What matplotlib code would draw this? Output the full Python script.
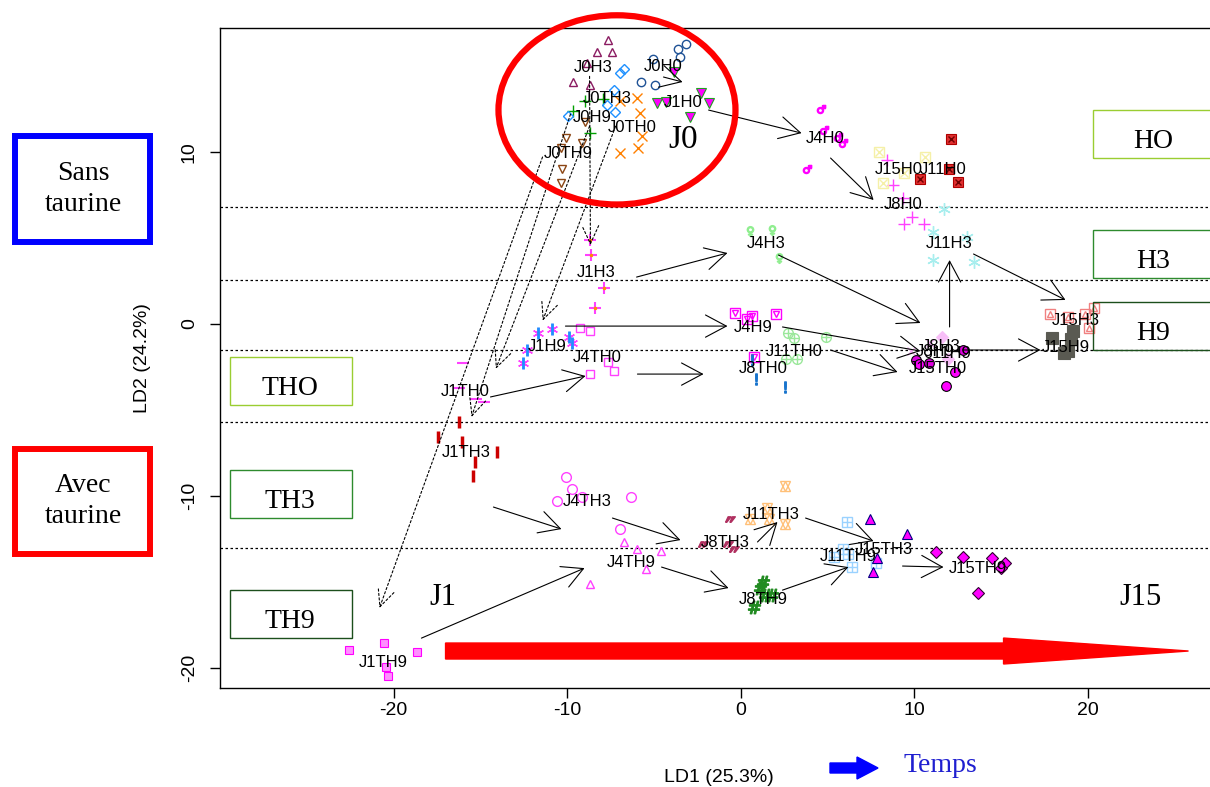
import matplotlib
matplotlib.use("Agg")
import matplotlib.pyplot as plt
from matplotlib.patches import Ellipse, FancyArrow, Rectangle

plt.rcParams["font.family"] = ["Liberation Sans", "DejaVu Sans"]
plt.rcParams["axes.unicode_minus"] = False

# ---- data (LD1, LD2) ----
names = ["J0H0", "J0H3", "J0H9", "J0TH0", "J0TH3", "J0TH9",
         "J1H0", "J1H3", "J1H9", "J1TH0", "J1TH3", "J1TH9",
         "J4H0", "J4H3", "J4H9", "J4TH0", "J4TH3", "J4TH9",
         "J8H0", "J8H3", "J8H9", "J8TH0", "J8TH3", "J8TH9",
         "J11H0", "J11H3", "J11H9", "J11TH0", "J11TH3", "J11TH9",
         "J15H0", "J15H3", "J15H9", "J15TH0", "J15TH3", "J15TH9"]

ld1 = [
    [-3.17, -3.63, -3.46, -5.07, -5.76, -4.90],
    [-7.61, -8.30, -7.38, -9.68, -8.70, -8.82],
    [-8.99, -7.90, -9.63, -8.70],
    [-5.94, -6.97, -5.82, -5.65, -5.88, -6.97],
    [-6.74, -6.97, -7.32, -7.67, -7.26, -9.97],
    [-10.03, -9.16, -10.32, -10.26, -10.32, -8.99],
    [-3.86, -2.25, -4.84, -4.32, -1.79, -2.94],
    [-8.65, -8.59, -7.84, -8.36],
    [-11.70, -10.84, -9.91, -9.74, -12.33, -12.56],
    [-16.02, -16.25, -15.27, -14.76],
    [-16.20, -17.46, -16.08, -14.06, -15.33, -15.39],
    [-22.59, -20.52, -18.67, -20.46, -20.29],
    [4.61, 4.84, 5.59, 5.88, 3.86],
    [0.52, 1.84, 2.19],
    [-0.29, 0.35, 0.69, 2.02, 0.75],
    [-9.28, -8.70, -8.70, -7.61, -7.32],
    [-10.03, -9.74, -10.55, -9.16, -6.34, -6.97],
    [-6.74, -5.94, -4.61, -5.42, -8.70],
    [8.47, 8.76, 9.34, 9.86, 9.45, 10.55],
    [11.64, 11.93],
    [9.80, 10.90],
    [0.92, 2.54, 0.69],
    [-0.58, -2.19, -0.75, -0.40],
    [1.27, 1.10, 1.44, 1.84, 0.75],
    [12.16, 11.99, 10.32, 12.56],
    [11.70, 11.12, 13.08, 11.07, 13.43],
    [10.09, 10.84, 12.80],
    [2.71, 3.11, 4.90, 2.65, 3.23],
    [2.59, 1.50, 0.52, 1.67, 2.54],
    [6.11, 5.88, 6.22, 7.78, 6.40, 5.36],
    [8.01, 10.66, 8.24, 9.45],
    [17.81, 18.90, 19.88, 20.35, 20.06],
    [17.93, 19.14, 19.02, 18.62, 18.85],
    [10.26, 12.39, 11.82],
    [7.49, 9.57, 7.84, 7.61],
    [11.24, 12.85, 14.47, 15.27, 14.99, 13.66],
]
ld2 = [
    [16.28, 15.99, 15.52, 15.41, 14.07, 13.90],
    [16.51, 15.81, 15.81, 14.07, 13.90, 15.17],
    [12.97, 13.08, 12.38, 11.10],
    [13.14, 12.97, 12.27, 10.93, 10.23, 9.94],
    [14.83, 14.59, 13.60, 12.73, 12.33, 12.09],
    [10.81, 10.52, 10.23, 9.01, 8.20, 11.74],
    [14.65, 13.43, 12.85, 12.91, 12.85, 12.03],
    [4.88, 4.01, 2.09, 0.93],
    [-0.52, -0.29, -0.76, -1.10, -1.51, -2.27],
    [-2.27, -3.72, -4.36, -4.53],
    [-5.70, -6.57, -6.86, -7.44, -8.02, -8.84],
    [-18.95, -18.55, -19.07, -19.94, -20.47],
    [12.50, 11.28, 10.87, 10.52, 9.01],
    [5.41, 5.47, 3.84],
    [0.64, 0.29, 0.47, 0.58, -1.92],
    [-0.23, -0.41, -2.91, -2.21, -2.73],
    [-8.90, -9.59, -10.29, -10.06, -10.06, -11.92],
    [-12.67, -13.08, -13.20, -14.24, -15.12],
    [9.53, 8.08, 7.33, 6.22, 5.81, 5.81],
    [-0.76, -2.03],
    [-1.57, -1.10],
    [-3.20, -3.66, -2.09],
    [-11.34, -12.79, -12.79, -13.08],
    [-15.00, -15.35, -15.76, -15.76, -16.45],
    [10.76, 9.01, 8.43, 8.26],
    [6.69, 5.35, 5.06, 3.72, 3.60],
    [-2.09, -2.27, -1.51],
    [-0.52, -0.81, -0.76, -2.03, -2.03],
    [-9.42, -10.70, -11.34, -11.34, -11.63],
    [-11.51, -13.08, -13.37, -13.90, -14.13, -13.55],
    [10.00, 9.71, 8.20, 8.78],
    [0.58, 0.41, 0.58, 0.93, -0.23],
    [-0.81, -0.41, -0.87, -1.69, -1.57],
    [-2.33, -2.79, -3.60],
    [-11.34, -12.21, -13.60, -14.42],
    [-13.26, -13.55, -13.60, -13.90, -14.19, -15.64],
]
label_x = [-4.44, -8.47, -8.53, -6.22, -7.67, -9.91,
           -3.29, -8.30, -11.12, -15.85, -15.79, -20.58,
           4.90, 1.50, 0.75, -8.24, -8.82, -6.28,
           9.39, 11.55, 11.20, 1.33, -0.86, 1.33,
           11.70, 12.05, 11.95, 3.11, 1.79, 6.22,
           9.11, 19.31, 18.73, 11.35, 8.24, 13.66]
label_y = [15.00, 14.94, 11.98, 11.45, 13.14, 9.94,
           12.85, 2.97, -1.28, -3.95, -7.44, -19.65,
           10.81, 4.71, -0.23, -1.92, -10.29, -13.84,
           6.92, -1.30, -1.62, -2.56, -12.73, -15.99,
           9.01, 4.71, -1.70, -1.57, -11.05, -13.49,
           9.01, 0.23, -1.34, -2.56, -13.08, -14.19]

# trajectories between sampling days: (x0, y0, x1, y1)
arrows_solid = [
    (-18.39, -18.26, -8.99, -14.19), (-14.24, -10.64, -10.32, -11.92),
    (-14.41, -4.24, -8.93, -3.02), (-5.94, -2.91, -2.13, -2.91),
    (-10.09, -0.12, -0.75, -0.12), (-5.99, 2.73, -0.75, 4.13),
    (-1.84, 12.44, 3.52, 11.10), (5.19, 9.65, 7.67, 7.21),
    (2.19, 4.01, 10.37, 0.06), (2.42, -0.17, 10.37, -1.57),
    (5.19, -1.51, 9.05, -2.79), (12.05, -0.17, 12.05, 3.72),
    (13.43, 4.07, 18.73, 1.40), (12.80, -1.51, 17.29, -1.51),
    (-7.38, -11.28, -3.46, -12.56), (-4.55, -14.13, -0.69, -15.35),
    (0.98, -12.67, 2.13, -11.51), (3.75, -11.28, 7.67, -12.62),
    (2.42, -15.47, 6.22, -14.13), (9.34, -14.07, 11.70, -14.13),
    (-4.44, 14.36, -3.34, 14.07),
]
arrows_dotted = [
    (-11.41, 9.71, -20.81, -16.51), (-8.70, 14.40, -8.65, 4.59),
    (-9.80, 12.20, -15.50, -5.40), (-8.70, 11.50, -14.10, -2.60),
    (-7.20, 11.50, -11.40, 0.20),
]
hlines = [6.8, 2.56, -1.5, -5.7, -13.0]
big_labels = ["J0", "J1", "J15"]
big_x = [-3.29, -17.18, 23.05]
big_y = [10.70, -15.87, -15.87]
big_size = [24, 22, 22]


def o(m, c, ms=6, mew=1.0):
    return dict(marker=m, mfc="none", mec=c, ms=ms, mew=mew)


def f(m, fc, ec, ms=6, mew=0.8):
    return dict(marker=m, mfc=fc, mec=ec, ms=ms, mew=mew)


def s(m, c, ms=6, mew=1.0):
    return dict(marker=m, color=c, ms=ms, mew=mew)


MAG = "#FF40FF"
styles = {
    "J0H0": [o("o", "#1F5296")],
    "J0H3": [o("^", "#8B1C62")],
    "J0H9": [s("+", "#00A000", 8)],
    "J0TH0": [s("x", "#FF8000", 7)],
    "J0TH3": [o("D", "#1E90FF", 5.5)],
    "J0TH9": [o("v", "#8B4513")],
    "J1H0": [f("v", "#FF00FF", "#20A020", 7)],
    "J1H3": [s("+", MAG, 8, 1.5), s(".", "#FF8C00", 3)],
    "J1H9": [s((6, 2, 0), MAG, 8), s("|", "#1E90FF", 8, 2)],
    "J1TH0": [s("_", MAG, 8, 1.5)],
    "J1TH3": [s("|", "#CC0000", 8, 2.5)],
    "J1TH9": [f("s", "#FF90FF", "#FF00FF", 6)],
    "J4H0": [s("$\u2642$", "#FF00FF", 6)],
    "J4H3": [s("$\u2640$", "#90EE90", 7)],
    "J4H9": [o("s", "#FF00FF", 7), o("v", "#FF00FF", 5)],
    "J4TH0": [o("s", MAG, 6)],
    "J4TH3": [o("o", MAG, 7)],
    "J4TH9": [o("^", MAG, 6)],
    "J8H0": [s("+", MAG, 9)],
    "J8H3": [f("D", "#F7BEF7", "#F7BEF7", 6)],
    "J8H9": [s("x", "#F0B0F0", 6)],
    "J8TH0": [s("$!$", "#1874CD", 8)],
    "J8TH3": [s("$\u2033$", "#B03060", 7)],
    "J8TH9": [s("$\\#$", "#228B22", 9)],
    "J11H0": [f("s", "#E03030", "#B00000", 7), s("x", "#700000", 5)],
    "J11H3": [s((6, 2, 0), "#A8EEEE", 9)],
    "J11H9": [f("o", "#DD00DD", "black", 7)],
    "J11TH0": [o("o", "#9BE89B", 7), s("+", "#9BE89B", 7)],
    "J11TH3": [o("^", "#FFC078", 7), o("v", "#FFC078", 7)],
    "J11TH9": [o("s", "#9AD2FF", 7), s("+", "#9AD2FF", 7)],
    "J15H0": [o("s", "#F5F0A8", 7), s("x", "#F5F0A8", 6)],
    "J15H3": [o("s", "#F08080", 7), o("^", "#F08080", 4)],
    "J15H9": [f("s", "#5A5A52", "#5A5A52", 8)],
    "J15TH0": [f("o", "#FF00FF", "black", 7)],
    "J15TH3": [f("^", "#FF00FF", "#000080", 7)],
    "J15TH9": [f("D", "#FF00FF", "#300030", 6)],
}

W, H = 1210, 787
fig = plt.figure(figsize=(W / 100, H / 100), dpi=100)
ax = fig.add_axes([220 / W, 1 - 688 / H, 998 / W, 660 / H])
ax.set_xlim(-30, 27.52)
ax.set_ylim(-21.16, 17.21)

for yv in hlines:
    ax.axhline(yv, color="black", lw=0.9, ls=(0, (2, 2)), zorder=1)

for name, xs, ys in zip(names, ld1, ld2):
    for st in styles[name]:
        ax.plot(xs, ys, ls="none", zorder=3, **st)

for name, lx, ly in zip(names, label_x, label_y):
    ax.text(lx, ly, name, fontsize=12, ha="center", va="center", zorder=4)

for x0, y0, x1, y1 in arrows_solid:
    ax.annotate("", xy=(x1, y1), xytext=(x0, y0),
                arrowprops=dict(arrowstyle="->,head_length=1.5,head_width=0.8",
                                lw=0.8, color="black", shrinkA=0, shrinkB=0))
for x0, y0, x1, y1 in arrows_dotted:
    ax.annotate("", xy=(x1, y1), xytext=(x0, y0),
                arrowprops=dict(arrowstyle="->,head_length=1.3,head_width=0.6",
                                lw=0.8, ls=(0, (2, 2)), color="black",
                                shrinkA=0, shrinkB=0))

for t, bx, by, bs in zip(big_labels, big_x, big_y, big_size):
    ax.text(bx, by, t, fontsize=bs, family="Liberation Serif",
            ha="center", va="center")

# red ellipse around day 0
ax.add_patch(Ellipse((-7.12, 12.45), 13.66, 11.0, fill=False, ec="red",
                     lw=4.5, clip_on=False, zorder=5))
# time arrow inside the plot
ax.add_patch(FancyArrow(-17.0, -19.01, 42.82, 0, width=0.93, head_width=1.51,
                        head_length=10.66, length_includes_head=True,
                        color="red", zorder=5))

ax.set_xticks([-20, -10, 0, 10, 20])
ax.set_yticks([-20, -10, 0, 10])
ax.tick_params(direction="out", length=7, width=1, labelsize=14)
ax.tick_params(axis="x", pad=3)
ax.tick_params(axis="y", pad=9)
for t in ax.get_yticklabels():
    t.set_rotation(90)
    t.set_va("center")
for sp in ax.spines.values():
    sp.set_linewidth(1)

ax.set_xlabel("LD1 (25.3%)", fontsize=14)
ax.xaxis.set_label_coords(0.5, -0.122)
ax.set_ylabel("LD2 (24.2%)", fontsize=14)
ax.yaxis.set_label_coords(-0.069, 0.5)


def fbox(x0, y0, x1, y1, ec, lw):
    fig.add_artist(Rectangle((x0 / W, 1 - y1 / H), (x1 - x0) / W, (y1 - y0) / H,
                             transform=fig.transFigure, fill=False, ec=ec, lw=lw))


def ftext(x, y, t, **kw):
    fig.text(x / W, 1 - y / H, t, family="Liberation Serif", **kw)


# condition boxes
fbox(15, 136, 150, 242, "#0000FF", 4.3)
ftext(83, 189, "Sans\ntaurine", fontsize=20, ha="center", va="center", linespacing=1.3)
fbox(15, 449, 150, 554, "#FF0000", 4.3)
ftext(83, 501, "Avec\ntaurine", fontsize=20, ha="center", va="center", linespacing=1.3)

box_names = ["HO", "H3", "H9", "THO", "TH3", "TH9"]
box_colors = ["#9ACD32", "#2E8B2E", "#1C4F1C", "#9ACD32", "#2E8B2E", "#1C4F1C"]
box_x = [1093, 1093, 1093, 230, 230, 230]
box_y = [110, 230, 302, 357, 470, 590]
for bn, bc, bx, by in zip(box_names, box_colors, box_x, box_y):
    fbox(bx, by, bx + 122, by + 48, bc, 1.0)
    ftext(bx + 60, by + 38, bn, fontsize=20, ha="center", va="baseline")

# time legend below the axis
fig.add_artist(FancyArrow(830 / W, 1 - 768 / H, 48 / W, 0, width=10 / H,
                          head_width=22 / H, head_length=21 / W,
                          length_includes_head=True, color="#0000FF",
                          transform=fig.transFigure))
ftext(940, 765, "Temps", fontsize=20, color="#1F1FD0", ha="center", va="center")

fig.savefig("out.png", dpi=100)
plt.close(fig)
